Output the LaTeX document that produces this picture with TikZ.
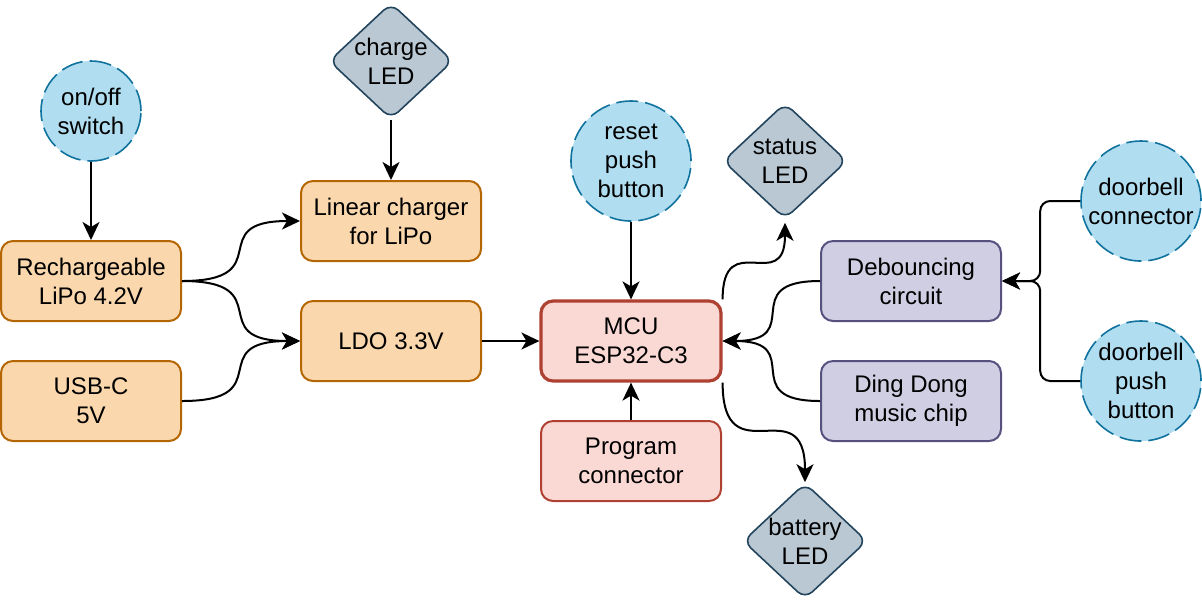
\documentclass[tikz,border=0pt]{standalone}
\usepackage{fontspec}
\setmainfont{Liberation Sans}
\usetikzlibrary{arrows.meta,shapes.geometric}

\definecolor{orangefill}{HTML}{FAD7AC}
\definecolor{orangeline}{HTML}{B46504}
\definecolor{redfill}{HTML}{FAD9D5}
\definecolor{redline}{HTML}{AE4132}
\definecolor{purplefill}{HTML}{D0CEE2}
\definecolor{purpleline}{HTML}{56517E}
\definecolor{bluefill}{HTML}{B1DDF0}
\definecolor{blueline}{HTML}{10739E}
\definecolor{grayfill}{HTML}{BAC8D3}
\definecolor{grayline}{HTML}{23445D}

\tikzset{
  label text/.style={align=center, font=\fontsize{12}{14.5}\selectfont},
  block/.style={label text, rectangle, rounded corners=6pt, line width=1pt,
    minimum width=90pt, minimum height=40pt, inner sep=0pt},
  power/.style={block, draw=orangeline, fill=orangefill},
  mcublock/.style={block, draw=redline, fill=redfill, line width=1.6pt},
  progblock/.style={block, draw=redline, fill=redfill},
  sound/.style={block, draw=purpleline, fill=purplefill},
  button/.style={label text, circle, draw=blueline, fill=bluefill, line width=0.8pt,
    dash pattern=on 11pt off 3.5pt, minimum size=60pt, inner sep=0pt},
  led/.style={label text, diamond, draw=grayline, fill=grayfill, line width=0.8pt,
    rounded corners=5pt, minimum width=62pt, minimum height=58pt, inner sep=-3pt},
  wire/.style={line width=1pt, -{Stealth[length=9pt,width=8.5pt,inset=2.5pt]}},
  curvy/.style={looseness=1.9},
}

\begin{document}
\begin{tikzpicture}[x=0.5pt,y=-0.5pt]

% Fix the canvas
\useasboundingbox (0,0) rectangle (1202,602);

% Draw power blocks
\node[power] (lipo) at (91,281) {Rechargeable\\LiPo 4.2V};
\node[power] (usb) at (91,401) {USB-C\\5V};
\node[power] (chg) at (391,221) {Linear charger\\for LiPo};
\node[power] (ldo) at (391,341) {LDO 3.3V};

% Draw MCU and program connector
\node[mcublock] (mcu) at (631,341) {MCU\\ESP32-C3};
\node[progblock] (prog) at (631,461) {Program\\connector};

% Draw sound blocks
\node[sound] (deb) at (911,281) {Debouncing\\circuit};
\node[sound] (ding) at (911,401) {Ding Dong\\music chip};

% Draw switches and buttons
\node[button, minimum size=50pt] (sw) at (91,111) {on/off\\switch};
\node[button] (rst) at (631,161) {reset\\push\\button};
\node[button] (dbc) at (1141,201) {doorbell\\connector};
\node[button] (dbp) at (1141,381) {doorbell\\push\\button};

% Draw LEDs
\node[led] (chled) at (391,61) {charge\\LED};
\node[led] (stled) at (785,161) {status\\LED};
\node[led] (batled) at (805,541) {battery\\LED};

% Draw straight wires
\draw[wire] (sw) -- (lipo);
\draw[wire] (chled) -- (chg);
\draw[wire] (ldo) -- (mcu);
\draw[wire] (rst) -- (mcu);
\draw[wire] (prog) -- (mcu);

% Draw curved wires
\draw[wire] (lipo.east) to[curvy, out=0, in=180] (chg.west);
\draw[wire] (lipo.east) to[curvy, out=0, in=180] (ldo.west);
\draw[wire] (usb.east) to[curvy, out=0, in=180] (ldo.west);
\draw[wire] (mcu.north east) to[curvy, out=90, in=-90] ([yshift=-1.5pt]stled.south);
\draw[wire] (mcu.south east) to[curvy, out=-90, in=90] (batled.north);
\draw[wire] (deb.west) to[curvy, out=180, in=0] (mcu.east);
\draw[wire] (ding.west) to[curvy, out=180, in=0] (mcu.east);

% Draw doorbell wires
\draw[wire, rounded corners=5pt] (dbc.west) -- ++(-40,0) |- (deb.east);
\draw[wire, rounded corners=5pt] (dbp.west) -- ++(-40,0) |- (deb.east);

\end{tikzpicture}
\end{document}
